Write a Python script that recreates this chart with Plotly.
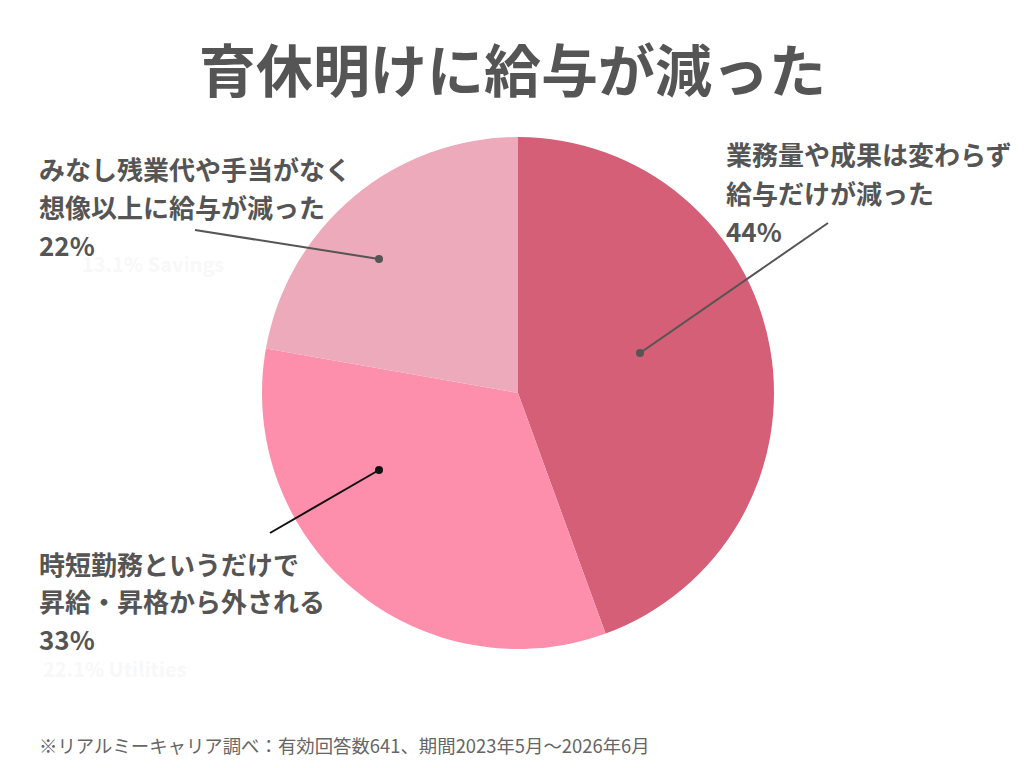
import plotly.graph_objects as go

# データ
labels = ['業務量や成果は変わらず<br>給与だけが減った',
          '時短勤務というだけで<br>昇給・昇格から外される',
          'みなし残業代や手当がなく<br>想像以上に給与が減った']
values = [44, 33, 22]
colors = ['#d45f77', '#fd8fac', '#ecaabb']

W, H = 1024, 768
OFF = 8  # page offset in the screenshot
FONT = 'Noto Sans CJK JP'
GRAY = '#555555'

def px(x, y):
    # pixel -> paper
    return (x - OFF) / W, 1 - (y - OFF) / H

cx, cy, r = 518, 393, 256
dx0, dy1 = px(cx - r, cy - r)
dx1, dy0 = px(cx + r, cy + r)

fig = go.Figure(go.Pie(
    labels=labels, values=values, sort=False, direction='clockwise', rotation=0,
    marker=dict(colors=colors, line=dict(width=0)),
    textinfo='none', hoverinfo='label+percent', showlegend=False,
    domain=dict(x=[dx0, dx1], y=[dy0, dy1]),
))

# ラベル文字（1行ずつ配置）
label_pos = [(724, [154, 192, 230]), (37, [563, 600, 638]), (37, [169, 206, 244])]
for lab, v, (x, ys) in zip(labels, values, label_pos):
    lines = lab.split('<br>') + [f'{v}%']
    for line, y in zip(lines, ys):
        xx, yy = px(x, y)
        fig.add_annotation(x=xx, y=yy, xref='paper', yref='paper', xanchor='left', yanchor='middle',
                           showarrow=False, text=f'<b>{line}</b>',
                           font=dict(family=FONT, size=26, color=GRAY))

# 引き出し線
leaders = [((640, 353), (828, 223), GRAY), ((379, 470), (270, 533), '#111111'), ((379, 259), (195, 230), GRAY)]
for (x0, y0), (x1, y1), c in leaders:
    a0, b0 = px(x0, y0)
    a1, b1 = px(x1, y1)
    fig.add_shape(type='line', xref='paper', yref='paper', x0=a0, y0=b0, x1=a1, y1=b1,
                  line=dict(color=c, width=2))
    ca, cb = px(x0 - 4, y0 + 4)
    cc, cd = px(x0 + 4, y0 - 4)
    fig.add_shape(type='circle', xref='paper', yref='paper', x0=ca, x1=cc, y0=cb, y1=cd,
                  fillcolor=c, line=dict(width=0))

# 消し残りの薄い文字
for t, (x, y) in [('13.1% Savings', (80, 264)), ('22.1% Utilities', (41, 668))]:
    xx, yy = px(x, y)
    fig.add_annotation(x=xx, y=yy, xref='paper', yref='paper', xanchor='left', yanchor='middle',
                       showarrow=False, text=f'<b>{t}</b>',
                       font=dict(family=FONT, size=20, color='#f8f8f8'))

tx, ty = px(512, 67)
fig.add_annotation(x=tx, y=ty, xref='paper', yref='paper', xanchor='center', yanchor='middle',
                   showarrow=False, text='<b>育休明けに給与が減った</b>',
                   font=dict(family=FONT, size=57, color=GRAY))
fx, fy = px(37, 745)
fig.add_annotation(x=fx, y=fy, xref='paper', yref='paper', xanchor='left', yanchor='middle',
                   showarrow=False, text='※リアルミーキャリア調べ：有効回答数641、期間2023年5月～2026年6月',
                   font=dict(family=FONT, size=18.4, color='#666666'))

fig.update_layout(width=W, height=H, margin=dict(l=0, r=0, t=0, b=0),
                  paper_bgcolor='white', plot_bgcolor='white')
fig.write_html('out.html')
